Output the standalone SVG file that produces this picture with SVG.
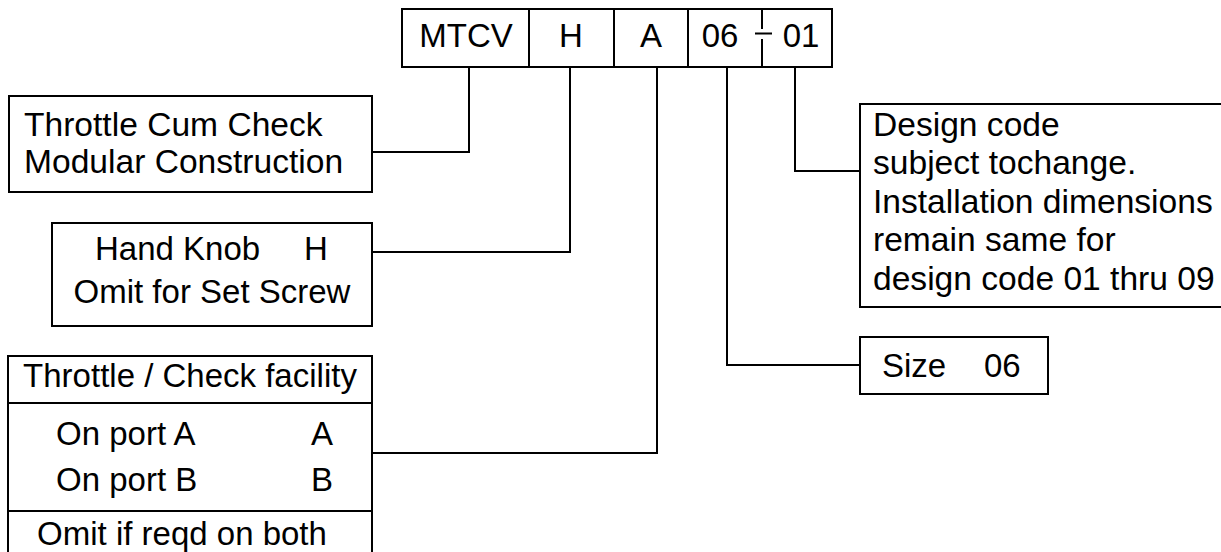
<svg xmlns="http://www.w3.org/2000/svg" width="1221" height="552" viewBox="0 0 1221 552">
<style>
.box{fill:#fff;stroke:#000;stroke-width:2}
.ln{fill:none;stroke:#000;stroke-width:2}
.t{font-family:"Liberation Sans",Arial,sans-serif;font-size:33px;fill:#000}
.l{font-size:33.6px}
.m{text-anchor:middle}
</style>
<rect width="1221" height="552" fill="#fff"/>
<g id="connectors">
<path class="ln" d="M469,67 V152 H372"/>
<path class="ln" d="M570,67 V252 H372"/>
<path class="ln" d="M657,67 V453 H372"/>
<path class="ln" d="M727,67 V365 H860" stroke-width="1.6"/>
<path class="ln" d="M795,67 V171 H860"/>
</g>
<g id="code">
<rect class="box" x="402" y="9" width="430" height="58"/>
<path class="ln" d="M529,9 V67 M614,9 V67 M688,9 V67 M762,9 V29 M762,39 V67 M755,33.5 H772"/>
<text class="t m" x="466" y="47">MTCV</text>
<text class="t m" x="571" y="47">H</text>
<text class="t m" x="651" y="47">A</text>
<text class="t m" x="720" y="47">06</text>
<text class="t m" x="801" y="47">01</text>
</g>
<g id="series">
<rect class="box" x="9" y="96" width="363" height="96"/>
<text class="t l" x="24" y="136">Throttle Cum Check</text>
<text class="t l" x="24" y="173">Modular Construction</text>
</g>
<g id="knob">
<rect class="box" x="52" y="223" width="320" height="103"/>
<text class="t" x="95" y="260">Hand Knob</text>
<text class="t" x="304" y="260">H</text>
<text class="t m" x="212" y="303">Omit for Set Screw</text>
</g>
<g id="facility">
<rect class="box" x="8" y="356" width="364" height="210"/>
<path class="ln" d="M8,403 H372 M8,511 H372"/>
<text class="t m" x="190" y="387">Throttle / Check facility</text>
<text class="t" x="56" y="445">On port A</text>
<text class="t" x="311" y="445">A</text>
<text class="t" x="56" y="491">On port B</text>
<text class="t" x="311" y="491">B</text>
<text class="t m" x="182" y="545">Omit if reqd on both</text>
</g>
<g id="design">
<rect class="box" x="860" y="104" width="380" height="203"/>
<text class="t l" x="873" y="136">Design code</text>
<text class="t l" x="873" y="174">subject tochange.</text>
<text class="t l" x="873" y="213">Installation dimensions</text>
<text class="t l" x="873" y="251">remain same for</text>
<text class="t l" x="873" y="290">design code 01 thru 09</text>
</g>
<g id="size">
<rect class="box" x="860" y="337" width="188" height="57"/>
<text class="t" x="882" y="377">Size</text>
<text class="t" x="984" y="377">06</text>
</g>
</svg>
